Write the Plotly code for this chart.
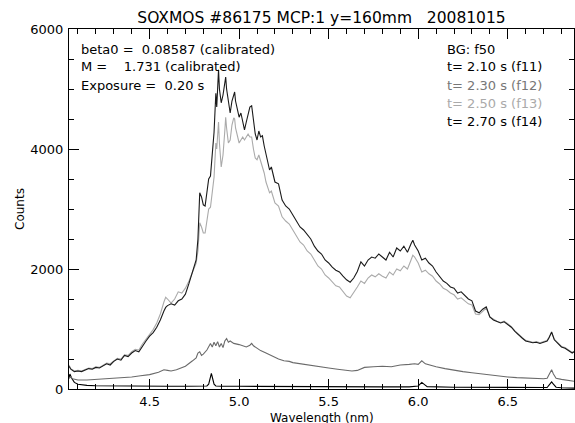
import plotly.graph_objects as go

# ---- data ----
wl_main = [4.05, 4.06, 4.08, 4.10, 4.12, 4.14, 4.16, 4.18, 4.20, 4.22, 4.24, 4.26, 4.28, 4.30, 4.32, 4.34,
           4.36, 4.38, 4.40, 4.42, 4.44, 4.46, 4.48, 4.50, 4.52, 4.54, 4.56, 4.58, 4.59, 4.60, 4.62, 4.64,
           4.66, 4.68, 4.70, 4.72, 4.74, 4.76, 4.77, 4.78, 4.79, 4.80, 4.81, 4.82, 4.83, 4.84, 4.85, 4.86,
           4.87, 4.875, 4.885, 4.89, 4.90, 4.91, 4.92, 4.925, 4.93, 4.94, 4.95, 4.96, 4.97, 4.975, 4.98,
           4.99, 5.00, 5.01, 5.02, 5.03, 5.04, 5.05, 5.06, 5.07, 5.08, 5.09, 5.10, 5.11, 5.12, 5.13, 5.14,
           5.15, 5.16, 5.17, 5.18, 5.19, 5.20, 5.22, 5.24, 5.26, 5.28, 5.30, 5.32, 5.34, 5.36, 5.38, 5.40,
           5.42, 5.44, 5.46, 5.48, 5.50, 5.52, 5.54, 5.56, 5.58, 5.60, 5.62, 5.64, 5.66, 5.68, 5.70, 5.72,
           5.74, 5.76, 5.78, 5.80, 5.82, 5.84, 5.86, 5.88, 5.90, 5.92, 5.94, 5.96, 5.97, 5.98, 6.00, 6.02,
           6.04, 6.06, 6.08, 6.10, 6.12, 6.14, 6.16, 6.18, 6.20, 6.22, 6.24, 6.26, 6.28, 6.30, 6.32, 6.34,
           6.36, 6.38, 6.40, 6.42, 6.44, 6.46, 6.48, 6.50, 6.52, 6.54, 6.56, 6.58, 6.60, 6.62, 6.64, 6.66,
           6.68, 6.70, 6.72, 6.73, 6.745, 6.76, 6.78, 6.80, 6.82, 6.84, 6.86, 6.87]

f14 = [380, 330, 290, 300, 290, 320, 340, 330, 360, 350, 380, 420, 400, 460, 500, 480,
       560, 540, 600, 640, 620, 720, 800, 880, 940, 1030, 1150, 1300, 1360, 1390, 1420, 1400,
       1470, 1500, 1580, 1760, 1950, 2150, 2500, 3270, 3200, 3070, 3050, 3300, 3500, 3550, 3900, 4280,
       4930, 4700, 5320, 5000, 4770, 4900, 5100, 5200, 5000, 4770, 4600, 4800, 4930, 4950, 4800,
       4650, 4530, 4600, 4450, 4320, 4450, 4600, 4700, 4720, 4500, 4250, 4150, 4300, 4200, 4220, 4050,
       3900, 3750, 3650, 3700, 3550, 3450, 3420, 3150, 3050, 3000, 2900, 2800, 2700, 2650, 2580, 2500,
       2380, 2300, 2250, 2150, 2100, 2030, 1980, 1950, 1880, 1820, 1780, 1850, 1960, 2120, 2050, 2150,
       2200, 2180, 2250, 2200, 2150, 2280, 2200, 2350, 2300, 2380, 2280, 2420, 2480, 2400, 2300, 2150,
       2180, 2100, 2050, 1950, 1880, 1800, 1760, 1700, 1680, 1600, 1620, 1560, 1500, 1470, 1300, 1270,
       1330, 1370, 1200, 1150, 1120, 1100, 1120, 1080, 1030, 960, 900, 850, 800, 790, 770, 780,
       760, 780, 800, 850, 950, 820, 760, 700, 680, 640, 600, 620]

f13 = [400, 340, 300, 310, 300, 330, 350, 340, 370, 360, 390, 430, 420, 470, 510, 500,
       570, 560, 620, 660, 650, 750, 830, 920, 990, 1100, 1250, 1450, 1530, 1500, 1430, 1500,
       1620, 1600, 1680, 1800, 1950, 2100, 2300, 2770, 2700, 2600, 2600, 2800, 3000, 3030, 3250, 3530,
       4100, 4000, 4450, 4100, 3700, 3900, 4300, 4530, 4350, 4100, 4150, 4400, 4520, 4500, 4350,
       4200, 4100, 4150, 4200, 4150, 4200, 4250, 4200, 4200, 4000, 3850, 3820, 3900, 3800, 3700, 3600,
       3450, 3350, 3270, 3300, 3200, 3100, 3050, 2870, 2800, 2750, 2650, 2550, 2450, 2400, 2300, 2250,
       2150, 2050, 2000, 1900, 1850, 1780, 1720, 1700, 1620, 1550, 1520, 1600, 1700, 1800, 1760, 1850,
       1900, 1870, 1920, 1880, 1850, 1950, 1900, 2000, 1970, 2050, 2000, 2150, 2230, 2200, 2100, 1950,
       1980, 1920, 1880, 1800, 1750, 1680, 1650, 1600, 1570, 1500, 1520, 1470, 1420, 1400, 1250, 1240,
       1300, 1350, 1200, 1160, 1130, 1110, 1130, 1090, 1040, 970, 910, 860, 810, 800, 780, 790,
       770, 790, 810, 860, 940, 830, 770, 710, 690, 650, 610, 630]

wl_f12 = [4.05, 4.06, 4.07, 4.10, 4.15, 4.20, 4.25, 4.30, 4.35, 4.40, 4.45, 4.50, 4.55, 4.58, 4.60, 4.62,
          4.65, 4.70, 4.74, 4.76, 4.77, 4.78, 4.79, 4.80, 4.82, 4.84, 4.85, 4.86, 4.87, 4.88, 4.89, 4.90,
          4.91, 4.92, 4.93, 4.94, 4.95, 4.97, 5.00, 5.02, 5.04, 5.06, 5.07, 5.08, 5.10, 5.12, 5.15, 5.18,
          5.20, 5.22, 5.25, 5.28, 5.30, 5.34, 5.38, 5.42, 5.46, 5.50, 5.55, 5.60, 5.63, 5.66, 5.70, 5.75,
          5.80, 5.85, 5.90, 5.95, 5.98, 6.00, 6.02, 6.04, 6.06, 6.10, 6.15, 6.20, 6.25, 6.30, 6.35, 6.40,
          6.45, 6.50, 6.55, 6.60, 6.65, 6.70, 6.72, 6.735, 6.745, 6.755, 6.77, 6.80, 6.84, 6.87]
f12 = [180, 200, 170, 150, 150, 160, 165, 175, 185, 200, 220, 240, 280, 320, 310, 300,
       320, 380, 470, 520, 600, 620, 560, 580, 650, 760, 700, 780, 720, 790, 700, 760,
       690, 800, 840, 780, 800, 760, 740, 720, 700, 730, 760, 720, 680, 640, 600, 560,
       520, 500, 470, 460, 440, 420, 400, 390, 370, 350, 330, 310, 300, 310, 360, 370,
       380, 370, 400, 410, 420, 410, 470, 420, 400, 370, 340, 310, 290, 270, 250, 230,
       210, 200, 190, 180, 170, 170, 180, 250, 320, 250, 180, 160, 140, 130]

wl_f11 = [4.05, 4.055, 4.065, 4.08, 4.10, 4.15, 4.20, 4.30, 4.40, 4.50, 4.60, 4.70, 4.80, 4.82, 4.83,
          4.84, 4.845, 4.85, 4.86, 4.87, 4.90, 5.00, 5.20, 5.40, 5.60, 5.80, 5.95, 6.00, 6.02, 6.035,
          6.05, 6.20, 6.40, 6.60, 6.72, 6.735, 6.745, 6.755, 6.77, 6.80, 6.87]
f11 = [180, 250, 180, 110, 80, 60, 55, 50, 50, 45, 45, 45, 45, 50, 80,
       200, 260, 200, 80, 50, 45, 45, 40, 40, 35, 35, 35, 50, 110, 80,
       40, 30, 30, 25, 25, 80, 120, 80, 30, 20, 15]

series = [
    ("f11", wl_f11, f11, "#000000"),
    ("f12", wl_f12, f12, "#6a6a6a"),
    ("f13", wl_main, f13, "#aaaaaa"),
    ("f14", wl_main, f14, "#1a1a1a"),
]

left_text = ["beta0 =\u00a0\u00a00.08587 (calibrated)",
             "M =\u00a0\u00a0\u00a0\u00a01.731 (calibrated)",
             "Exposure =\u00a0\u00a00.20 s"]
right_text = ["BG: f50", "t= 2.10 s (f11)", "t= 2.30 s (f12)", "t= 2.50 s (f13)", "t= 2.70 s (f14)"]
right_colors = ["#000000", "#000000", "#777777", "#aaaaaa", "#000000"]

title_text = "SOXMOS #86175 MCP:1 y=160mm\u00a0\u00a0\u00a020081015"

FONT = "DejaVu Sans, sans-serif"

fig = go.Figure()
for name, xs, ys, col in series:
    fig.add_trace(go.Scatter(x=xs, y=ys, mode="lines", name=name,
                             line=dict(color=col, width=1.1), showlegend=False,
                             hoverinfo="skip"))

L, R, T, B = 69, 1, 29, 34
W, H = 575, 423
pw, ph = W - L - R, H - T - B

def px2paper_x(px):
    return (px - L) / pw

def py2paper_y(py):
    return (H - B - py) / ph

ann = []
for i, t in enumerate(left_text):
    ann.append(dict(text=t, x=px2paper_x(79), y=py2paper_y(49 + 18 * i), xref="paper", yref="paper",
                    xanchor="left", yanchor="middle", showarrow=False,
                    font=dict(size=13, color="#000000", family=FONT)))
for i, (t, c) in enumerate(zip(right_text, right_colors)):
    ann.append(dict(text=t, x=px2paper_x(445), y=py2paper_y(49 + 18 * i), xref="paper", yref="paper",
                    xanchor="left", yanchor="middle", showarrow=False,
                    font=dict(size=13, color=c, family=FONT)))
ann.append(dict(text="Wavelength (nm)", x=0.5, y=py2paper_y(418), xref="paper", yref="paper",
                xanchor="center", yanchor="middle", showarrow=False,
                font=dict(size=12, color="#000000", family=FONT)))
ann.append(dict(text="Counts", x=px2paper_x(20), y=0.5, xref="paper", yref="paper",
                xanchor="center", yanchor="middle", showarrow=False, textangle=-90,
                font=dict(size=12, color="#000000", family=FONT)))

fig.update_layout(
    width=W, height=H,
    margin=dict(l=L, r=R, t=T, b=B),
    paper_bgcolor="white", plot_bgcolor="white",
    title=dict(text=title_text, x=px2paper_x(321.5), xref="paper", y=1 - 18 / H, yref="container",
               xanchor="center", yanchor="middle",
               font=dict(size=15.5, color="#000000", family=FONT)),
    annotations=ann,
    font=dict(family=FONT, color="#000000"),
)
fig.update_xaxes(range=[4.05, 6.87], showgrid=False, zeroline=False,
                 showline=True, linecolor="#000000", linewidth=1, mirror="ticks",
                 ticks="inside", ticklen=10, tickcolor="#000000", tickwidth=1,
                 tickvals=[4.5, 5.0, 5.5, 6.0, 6.5], ticktext=["4.5", "5.0", "5.5", "6.0", "6.5"],
                 tickfont=dict(size=13, family=FONT), ticklabelstandoff=0,
                 minor=dict(dtick=0.1, tick0=4.0, ticks="inside", ticklen=5, tickcolor="#000000", showgrid=False))
fig.update_yaxes(range=[0, 6000], showgrid=False, zeroline=False,
                 showline=True, linecolor="#000000", linewidth=1, mirror="ticks",
                 ticks="inside", ticklen=10, tickcolor="#000000", tickwidth=1,
                 tickvals=[0, 2000, 4000, 6000], ticktext=["0", "2000", "4000", "6000"],
                 tickfont=dict(size=13, family=FONT), ticklabelstandoff=2,
                 minor=dict(dtick=500, tick0=0, ticks="inside", ticklen=5, tickcolor="#000000", showgrid=False))

fig.write_html("out.html", config={"displayModeBar": False, "staticPlot": True})

# remove the browser's default page margin so the figure sits at the window's top-left corner
with open("out.html", "r", encoding="utf-8") as fh:
    html = fh.read()
html = html.replace("<head>", "<head><style>html,body{margin:0;padding:0;overflow:hidden;}</style>", 1)
with open("out.html", "w", encoding="utf-8") as fh:
    fh.write(html)
